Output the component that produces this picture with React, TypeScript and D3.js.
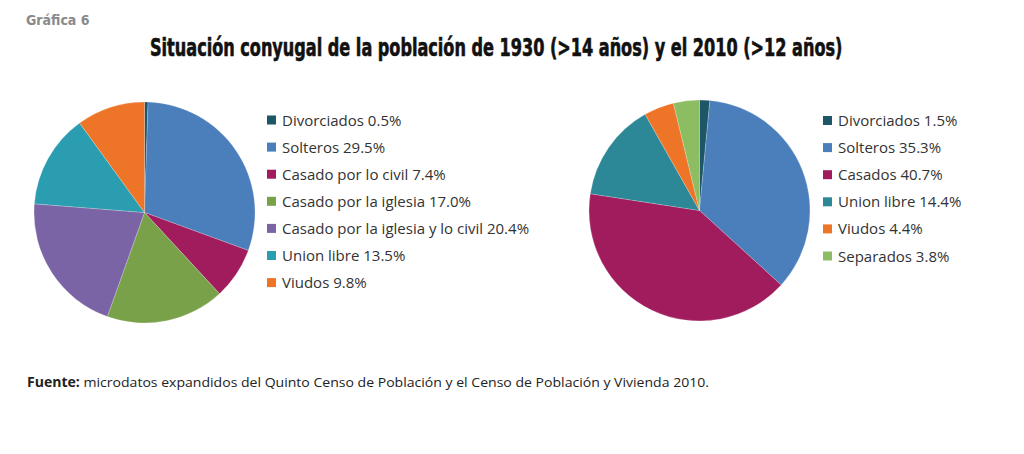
import React, { useLayoutEffect, useRef, useState } from "react";
import * as d3 from "d3";

const labels1930 = ["Divorciados", "Solteros", "Casado por lo civil", "Casado por la iglesia", "Casado por la iglesia y lo civil", "Union libre", "Viudos"];
const values1930 = [0.5, 29.5, 7.4, 17.0, 20.4, 13.5, 9.8];
const colors1930 = ["#1d5666", "#4a7fbc", "#a01c5c", "#79a14a", "#7a64a6", "#2a9db0", "#ee7427"];

const labels2010 = ["Divorciados", "Solteros", "Casados", "Union libre", "Viudos", "Separados"];
const values2010 = [1.5, 35.3, 40.7, 14.4, 4.4, 3.8];
const colors2010 = ["#1d5666", "#4a7fbc", "#a01c5c", "#2c8797", "#ee7427", "#8dbd63"];

const FONT = "'Open Sans', 'Noto Sans', sans-serif";
const COND = "'DejaVu Sans Condensed', 'DejaVu Sans', sans-serif";

function FitText({ x, y, width, children, ...rest }: any) {
  const ref = useRef<SVGTextElement>(null);
  const [k, setK] = useState(1);
  useLayoutEffect(() => {
    if (ref.current) {
      const len = ref.current.getComputedTextLength();
      if (len > 0) setK(width / len);
    }
  }, [width]);
  return (
    <g transform={`translate(${x},${y}) scale(${k},1)`}>
      <text ref={ref} x={0} y={0} {...rest}>{children}</text>
    </g>
  );
}

function Pie({ cx, cy, r, values, colors, labels, lx, ly }: any) {
  const pie = d3.pie<number>().sort(null).value((d) => d);
  const arc = d3.arc<d3.PieArcDatum<number>>().innerRadius(0).outerRadius(r);
  const arcs = pie(values);
  const rowY = d3.scaleLinear().domain([0, 1]).range([ly, ly + 27.1]);
  return (
    <g>
      <g transform={`translate(${cx},${cy})`}>
        {arcs.map((a, i) => (
          <path key={i} d={arc(a) || ""} fill={colors[i]} stroke="#ffffff" strokeWidth={0.4} strokeOpacity={0.5} />
        ))}
      </g>
      {labels.map((l: string, i: number) => (
        <g key={i} transform={`translate(${lx},${rowY(i)})`}>
          <rect x={0} y={-5} width={9} height={9} fill={colors[i]} />
          <text x={15} y={5} fontSize={15} fill="#333" fontFamily={FONT}>
            {`${l} ${values[i].toFixed(1)}%`}
          </text>
        </g>
      ))}
    </g>
  );
}

export default function App() {
  return (
    <svg width={1024} height={454} style={{ position: "absolute", left: 0, top: 0, background: "#fff" }}>
      <rect width={1024} height={454} fill="#fff" />
      <text x={26} y={25} fontSize={14} fontWeight="bold" fill="#8a8a8a" fontFamily={COND}>
        Gráfica 6
      </text>
      <FitText x={150} y={56} width={693} fontSize={24} fontWeight="bold" fill="#111" stroke="#111" strokeWidth={0.6} fontFamily={COND}>
        Situación conyugal de la población de 1930 (&gt;14 años) y el 2010 (&gt;12 años)
      </FitText>
      <Pie cx={144.5} cy={212.5} r={110.5} values={values1930} colors={colors1930} labels={labels1930} lx={267} ly={120.5} />
      <Pie cx={699.5} cy={210.5} r={110.5} values={values2010} colors={colors2010} labels={labels2010} lx={823} ly={121} />
      <FitText x={27} y={387} width={683} fontSize={13.5} fill="#222" fontFamily={FONT}>
        <tspan fontWeight="bold">Fuente:</tspan> microdatos expandidos del Quinto Censo de Población y el Censo de Población y Vivienda 2010.
      </FitText>
    </svg>
  );
}
